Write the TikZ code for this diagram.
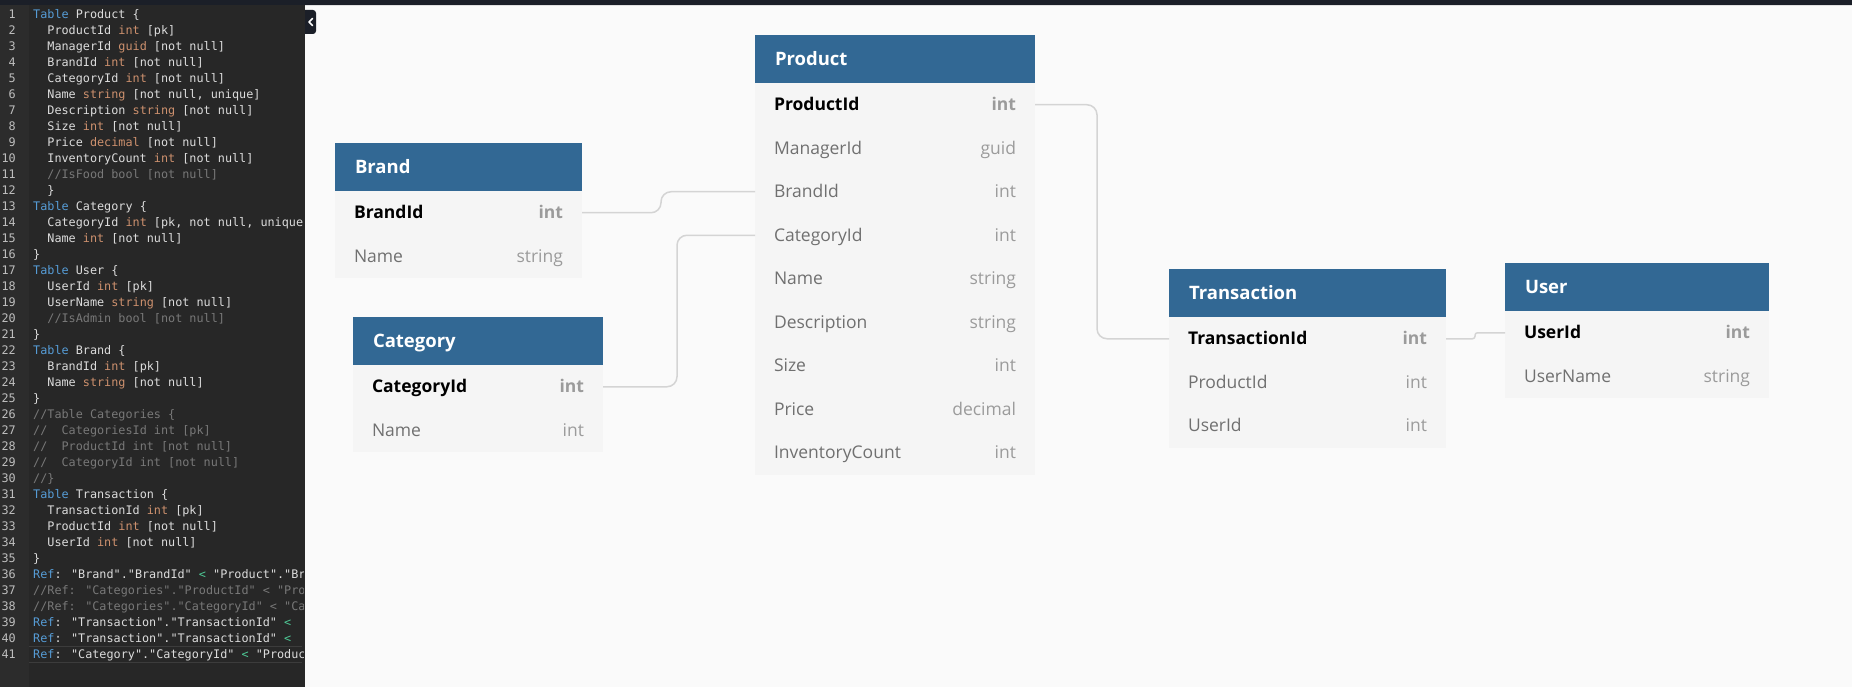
\documentclass[tikz,border=0pt]{standalone}
\usepackage{fontspec}
\usetikzlibrary{positioning}

\newfontfamily\dbfont{Open Sans}
\newfontfamily\codefont{DejaVu Sans Mono}

\definecolor{topbar}{RGB}{27,31,40}
\definecolor{canvasbg}{RGB}{250,250,250}
\definecolor{editorbg}{RGB}{39,39,39}
\definecolor{gutterbg}{RGB}{44,44,44}
\definecolor{curline}{RGB}{60,60,60}
\definecolor{lnumcol}{RGB}{190,190,190}
\definecolor{codefg}{RGB}{220,220,220}
\definecolor{kwblue}{RGB}{86,156,214}
\definecolor{tyorange}{RGB}{206,145,110}
\definecolor{cmgray}{RGB}{120,120,120}
\definecolor{opgreen}{RGB}{78,201,150}
\definecolor{hdrblue}{RGB}{50,104,148}
\definecolor{rowbg}{RGB}{245,245,245}
\definecolor{fldgray}{RGB}{112,112,112}
\definecolor{typegray}{RGB}{155,155,155}
\definecolor{relgray}{RGB}{212,212,212}

% code tokens
\newcommand\kw[1]{\textcolor{kwblue}{#1}}
\newcommand\ty[1]{\textcolor{tyorange}{#1}}
\newcommand\cm[1]{\textcolor{cmgray}{#1}}
\newcommand\op[1]{\textcolor{opgreen}{#1}}
% one table row: name left, type right
\newcommand\fld[3]{\makebox[#1]{#2\hfill\textcolor{typegray}{#3}}}

\tikzset{
  lnum/.style={anchor=base east, inner sep=0pt, text=lnumcol, font=\codefont\fontsize{11.8}{14}\selectfont},
  code/.style={anchor=base west, inner sep=0pt, text=codefg, font=\codefont\fontsize{11.8}{14}\selectfont},
  hdr/.style={anchor=north west, fill=hdrblue, text=white, font=\dbfont\bfseries\fontsize{18.5}{22}\selectfont,
    minimum height=48pt, inner xsep=20pt, inner ysep=0pt, outer sep=0pt, text height=15.5pt, text depth=2pt},
  row/.style={anchor=north west, fill=rowbg, text=fldgray, font=\dbfont\fontsize{17.5}{21}\selectfont,
    minimum height=43.5pt, inner xsep=19pt, inner ysep=0pt, outer sep=0pt, text height=14pt, text depth=2pt},
  pkrow/.style={row, text=black, font=\dbfont\bfseries\fontsize{17.5}{21}\selectfont},
  rel/.style={draw=relgray, line width=1.5pt, rounded corners=10pt}
}

\begin{document}
\begin{tikzpicture}[x=1pt,y=-1pt]
\useasboundingbox (0,0) rectangle (1852,687);

% panels
\fill[canvasbg] (305,0) rectangle (1852,687);
\fill[editorbg] (0,0) rectangle (305,687);
\fill[gutterbg] (0,0) rectangle (29,687);
\fill[topbar] (0,0) rectangle (1852,5);
\draw[black!12, line width=1pt] (305,6) -- (1852,6);
\draw[curline, line width=1pt] (29,646) -- (302,646) (29,662) -- (302,662);

% collapse button
\begin{scope}
  \clip (305,0) rectangle (330,40);
  \fill[topbar, rounded corners=3pt] (296,10) rectangle (316,34);
\end{scope}
\draw[white, line width=1.6pt, line cap=round, line join=round] (312.5,18.5) -- (309,22) -- (312.5,25.5);

% editor
\foreach \n in {1,...,41}
  \node[lnum] (ln\n) at (16,{2.5+16*\n}) {\n};

\begin{scope}
\clip (29,6) rectangle (303,687);
\node[code] (code1) at (33,18.5) {\kw{Table} Product \{};
\node[code] (code2) at (47.2,34.5) {ProductId \ty{int} [pk]};
\node[code] (code3) at (47.2,50.5) {ManagerId \ty{guid} [not null]};
\node[code] (code4) at (47.2,66.5) {BrandId \ty{int} [not null]};
\node[code] (code5) at (47.2,82.5) {CategoryId \ty{int} [not null]};
\node[code] (code6) at (47.2,98.5) {Name \ty{string} [not null, unique]};
\node[code] (code7) at (47.2,114.5) {Description \ty{string} [not null]};
\node[code] (code8) at (47.2,130.5) {Size \ty{int} [not null]};
\node[code] (code9) at (47.2,146.5) {Price \ty{decimal} [not null]};
\node[code] (code10) at (47.2,162.5) {InventoryCount \ty{int} [not null]};
\node[code] (code11) at (47.2,178.5) {\cm{//IsFood bool [not null]}};
\node[code] (code12) at (47.2,194.5) {\}};
\node[code] (code13) at (33,210.5) {\kw{Table} Category \{};
\node[code] (code14) at (47.2,226.5) {CategoryId \ty{int} [pk, not null, unique};
\node[code] (code15) at (47.2,242.5) {Name \ty{int} [not null]};
\node[code] (code16) at (33,258.5) {\}};
\node[code] (code17) at (33,274.5) {\kw{Table} User \{};
\node[code] (code18) at (47.2,290.5) {UserId \ty{int} [pk]};
\node[code] (code19) at (47.2,306.5) {UserName \ty{string} [not null]};
\node[code] (code20) at (47.2,322.5) {\cm{//IsAdmin bool [not null]}};
\node[code] (code21) at (33,338.5) {\}};
\node[code] (code22) at (33,354.5) {\kw{Table} Brand \{};
\node[code] (code23) at (47.2,370.5) {BrandId \ty{int} [pk]};
\node[code] (code24) at (47.2,386.5) {Name \ty{string} [not null]};
\node[code] (code25) at (33,402.5) {\}};
\node[code] (code26) at (33,418.5) {\cm{//Table Categories \{}};
\node[code] (code27) at (33,434.5) {\cm{//~~CategoriesId int [pk]}};
\node[code] (code28) at (33,450.5) {\cm{//~~ProductId int [not null]}};
\node[code] (code29) at (33,466.5) {\cm{//~~CategoryId int [not null]}};
\node[code] (code30) at (33,482.5) {\cm{//\}}};
\node[code] (code31) at (33,498.5) {\kw{Table} Transaction \{};
\node[code] (code32) at (47.2,514.5) {TransactionId \ty{int} [pk]};
\node[code] (code33) at (47.2,530.5) {ProductId \ty{int} [not null]};
\node[code] (code34) at (47.2,546.5) {UserId \ty{int} [not null]};
\node[code] (code35) at (33,562.5) {\}};
\node[code] (code36) at (33,578.5) {\kw{Ref}: "Brand"."BrandId" \op{<} "Product"."Br};
\node[code] (code37) at (33,594.5) {\cm{//Ref: "Categories"."ProductId" < "Pro}};
\node[code] (code38) at (33,610.5) {\cm{//Ref: "Categories"."CategoryId" < "Ca}};
\node[code] (code39) at (33,626.5) {\kw{Ref}: "Transaction"."TransactionId" \op{<}};
\node[code] (code40) at (33,642.5) {\kw{Ref}: "Transaction"."TransactionId" \op{<}};
\node[code] (code41) at (33,658.5) {\kw{Ref}: "Category"."CategoryId" \op{<} "Produc};
\end{scope}

% Product
\node[hdr] (product) at (755,35) {\makebox[240pt][l]{Product}};
\node[pkrow, below=0pt of product] (product-ProductId) {\fld{242pt}{ProductId}{int}};
\foreach \f/\t [count=\i] in {ManagerId/guid, BrandId/int, CategoryId/int, Name/string,
    Description/string, Size/int, Price/decimal, InventoryCount/int}
  \node[row] (product-\f) at (755,{83+43.5*\i}) {\fld{242pt}{\f}{\t}};

% Brand
\node[hdr] (brand) at (335,143) {\makebox[207pt][l]{Brand}};
\node[pkrow, below=0pt of brand] (brand-BrandId) {\fld{209pt}{BrandId}{int}};
\node[row] (brand-Name) at (335,234.5) {\fld{209pt}{Name}{string}};

% Category
\node[hdr] (category) at (353,317) {\makebox[210pt][l]{Category}};
\node[pkrow, below=0pt of category] (category-CategoryId) {\fld{212pt}{CategoryId}{int}};
\node[row] (category-Name) at (353,408.5) {\fld{212pt}{Name}{int}};

% Transaction
\node[hdr] (transaction) at (1169,269) {\makebox[237pt][l]{Transaction}};
\node[pkrow, below=0pt of transaction] (transaction-TransactionId) {\fld{239pt}{TransactionId}{int}};
\foreach \f/\t [count=\i] in {ProductId/int, UserId/int}
  \node[row] (transaction-\f) at (1169,{317+43.5*\i}) {\fld{239pt}{\f}{\t}};

% User
\node[hdr] (user) at (1505,263) {\makebox[224pt][l]{User}};
\node[pkrow, below=0pt of user] (user-UserId) {\fld{226pt}{UserId}{int}};
\node[row] (user-UserName) at (1505,354.5) {\fld{226pt}{UserName}{string}};

% relations
\draw[rel] (brand-BrandId.east) -- ++(79,0) |- (product-BrandId.west);
\draw[rel] (category-CategoryId.east) -- ++(74,0) |- (product-CategoryId.west);
\draw[rel] (product-ProductId.east) -- ++(62,0) |- (transaction-TransactionId.west);
\draw[rel, rounded corners=2.5pt] (transaction-TransactionId.east) -- ++(29,0) |- (user-UserId.west);
\end{tikzpicture}
\end{document}
